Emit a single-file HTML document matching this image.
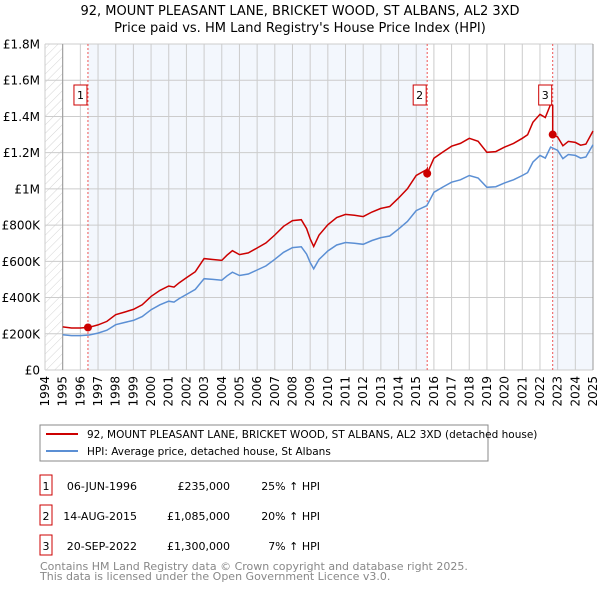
<!DOCTYPE html>
<html><head><meta charset="utf-8"><style>
body{margin:0;background:#fff;font-family:"Liberation Sans","DejaVu Sans",sans-serif}
svg text{font-family:"DejaVu Sans","Liberation Sans",sans-serif}
</style></head><body>
<svg id="c" width="600" height="590" viewBox="0 0 600 590" xmlns="http://www.w3.org/2000/svg">
<text x="300" y="15" text-anchor="middle" font-size="13">92, MOUNT PLEASANT LANE, BRICKET WOOD, ST ALBANS, AL2 3XD</text>
<text x="300" y="32" text-anchor="middle" font-size="13">Price paid vs. HM Land Registry's House Price Index (HPI)</text>
<defs><pattern id="h" width="6" height="6" patternUnits="userSpaceOnUse" patternTransform="rotate(45)"><line x1="0" y1="0" x2="0" y2="6" stroke="#d4d4d4" stroke-width="1"/></pattern></defs>
<g id="plot"></g>
<rect x="40" y="425" width="448" height="36" fill="#fff" stroke="#888"/>
<line x1="46" y1="434" x2="78" y2="434" stroke="#cc0000" stroke-width="2"/>
<text x="87" y="438" font-size="10.5">92, MOUNT PLEASANT LANE, BRICKET WOOD, ST ALBANS, AL2 3XD (detached house)</text>
<line x1="46" y1="451" x2="78" y2="451" stroke="#5b8fd4" stroke-width="2"/>
<text x="87" y="455" font-size="10.5">HPI: Average price, detached house, St Albans</text>
<g id="tbl" font-size="11"></g>
<text x="40" y="570" font-size="11" fill="#888">Contains HM Land Registry data © Crown copyright and database right 2025.</text>
<text x="40" y="580" font-size="11" fill="#888">This data is licensed under the Open Government Licence v3.0.</text>
</svg>
<script>
const hpiYears=[1995,1995.5,1996,1996.5,1997,1997.5,1998,1998.5,1999,1999.5,2000,2000.5,2001,2001.3,2001.6,2002,2002.5,2003,2003.5,2004,2004.3,2004.6,2005,2005.5,2006,2006.5,2007,2007.5,2008,2008.5,2008.8,2009,2009.2,2009.5,2010,2010.5,2011,2011.5,2012,2012.5,2013,2013.5,2014,2014.5,2015,2015.6,2016,2016.5,2017,2017.5,2018,2018.5,2019,2019.5,2020,2020.5,2021,2021.3,2021.6,2022,2022.3,2022.6,2023,2023.3,2023.6,2024,2024.3,2024.6,2025];
const hpiValues=[195,190,190,193,204,220,250,262,274,295,333,360,380,375,395,417,445,504,500,496,520,540,522,530,552,575,611,650,676,680,640,593,559,610,657,690,704,700,694,715,731,740,778,820,880,907,981,1010,1037,1050,1074,1060,1009,1012,1033,1050,1074,1090,1148,1185,1170,1231,1213,1167,1190,1185,1170,1176,1244];
const saleLabels=['1','2','3'];
const saleYears=[1996.43,2015.62,2022.72];
const salePrices=[235,1085,1300];
const saleDates=['06-JUN-1996','14-AUG-2015','20-SEP-2022'];
const salePriceText=['£235,000','£1,085,000','£1,300,000'];
const salePct=['25%','20%','7%'];
const yTicks=[0,200,400,600,800,1000,1200,1400,1600,1800];
const yTickLabels=['£0','£200K','£400K','£600K','£800K','£1M','£1.2M','£1.4M','£1.6M','£1.8M'];
const xTicks=[1994,1995,1996,1997,1998,1999,2000,2001,2002,2003,2004,2005,2006,2007,2008,2009,2010,2011,2012,2013,2014,2015,2016,2017,2018,2019,2020,2021,2022,2023,2024,2025];

const X0=45,X1=593,Y0=370,Y1=44;
const xs=y=>X0+(y-1994)/(2025-1994)*(X1-X0);
const ys=v=>Y0-v/1800*(Y0-Y1);
const NS='http://www.w3.org/2000/svg';
const g=document.getElementById('plot');
function mk(t,a,p){const e=document.createElementNS(NS,t);for(const k in a)e.setAttribute(k,a[k]);(p||g).appendChild(e);return e;}
function hpiAt(y){for(let i=1;i<hpiYears.length;i++){if(y<=hpiYears[i]){const t=(y-hpiYears[i-1])/(hpiYears[i]-hpiYears[i-1]);return hpiValues[i-1]+t*(hpiValues[i]-hpiValues[i-1]);}}return hpiValues[hpiValues.length-1];}

let e=mk('rect',{x:X0,y:Y1,width:X1-X0,height:Y0-Y1,fill:'#fff'});

e=mk('rect',{x:xs(1994),y:Y1,width:xs(1995)-xs(1994),height:Y0-Y1,fill:'url(#h)'});

e=mk('rect',{x:xs(saleYears[0]),y:Y1,width:xs(saleYears[1])-xs(saleYears[0]),height:Y0-Y1,fill:'#eef3fc',opacity:0.7});

e=mk('rect',{x:xs(saleYears[2]),y:Y1,width:X1-xs(saleYears[2]),height:Y0-Y1,fill:'#eef3fc',opacity:0.7});

xTicks.forEach((t,i)=>{
 const l=mk('line',{x1:xs(t),x2:xs(t),y1:Y1,y2:Y0,stroke:'#ccc','stroke-width':1});
 
 const tx=mk('text',{x:0,y:0,'font-size':12,'text-anchor':'end',transform:`translate(${xs(t)+4},${Y0+6}) rotate(-90)`});
 tx.textContent=t;
 
});
yTicks.forEach((t,i)=>{
 const l=mk('line',{x1:X0,x2:X1,y1:ys(t),y2:ys(t),stroke:'#ccc','stroke-width':1});
 
 const tx=mk('text',{x:40,y:ys(t)+4.5,'font-size':12,'text-anchor':'end'});
 tx.textContent=yTickLabels[i];
 
});
e=mk('line',{x1:xs(1995),x2:xs(1995),y1:Y1,y2:Y0,stroke:'#999'});

e=mk('line',{x1:X1,x2:X1,y1:Y1,y2:Y0,stroke:'#999'});

saleYears.forEach((sy,i)=>{
 const l=mk('line',{x1:xs(sy),x2:xs(sy),y1:Y1,y2:Y0,stroke:'#e55','stroke-width':1,'stroke-dasharray':'2,2'});
 
});
let d=hpiYears.map((y,i)=>(i?'L':'M')+xs(y).toFixed(1)+','+ys(hpiValues[i]).toFixed(1)).join('');
e=mk('path',{d:d,fill:'none',stroke:'#5b8fd4','stroke-width':1.5});

const ratios=saleYears.map((sy,i)=>salePrices[i]/hpiAt(sy));
function ratioAt(y){let r=ratios[0];saleYears.forEach((sy,i)=>{if(y>=sy)r=ratios[i];});return r;}
const pts=[];
const allY=hpiYears.concat(saleYears.map(s=>s-0.001),saleYears).sort((a,b)=>a-b);
allY.forEach(y=>pts.push([xs(y),ys(hpiAt(y)*ratioAt(y))]));
d=pts.map((p,i)=>(i?'L':'M')+p[0].toFixed(1)+','+p[1].toFixed(1)).join('');
e=mk('path',{d:d,fill:'none',stroke:'#cc0000','stroke-width':1.5});

saleYears.forEach((sy,i)=>{
 const c=mk('circle',{cx:xs(sy),cy:ys(salePrices[i]),r:4,fill:'#cc0000'});
 
 const bx=xs(sy)-14;
 const r=mk('rect',{x:bx,y:85,width:13,height:20,fill:'#fff',stroke:'#cc0000'});
 
 const t=mk('text',{x:bx+6.5,y:99,'font-size':11,'text-anchor':'middle'});
 t.textContent=saleLabels[i];
 
});
const tb=document.getElementById('tbl');
const rowY=[486,516,546];
saleLabels.forEach((s,i)=>{
 const y=rowY[i];
 let r=mk('rect',{x:40,y:y-11,width:12,height:20,fill:'#fff',stroke:'#cc0000'},tb);
 
 let t=mk('text',{x:46,y:y+4,'text-anchor':'middle'},tb);t.textContent=s;
 
 t=mk('text',{x:137,y:y+4,'text-anchor':'end'},tb);t.textContent=saleDates[i];
 
 t=mk('text',{x:230,y:y+4,'text-anchor':'end'},tb);t.textContent=salePriceText[i];
 
 t=mk('text',{x:320,y:y+4,'text-anchor':'end'},tb);t.textContent=salePct[i]+' ↑ HPI';
 
});
</script>
</body></html>
